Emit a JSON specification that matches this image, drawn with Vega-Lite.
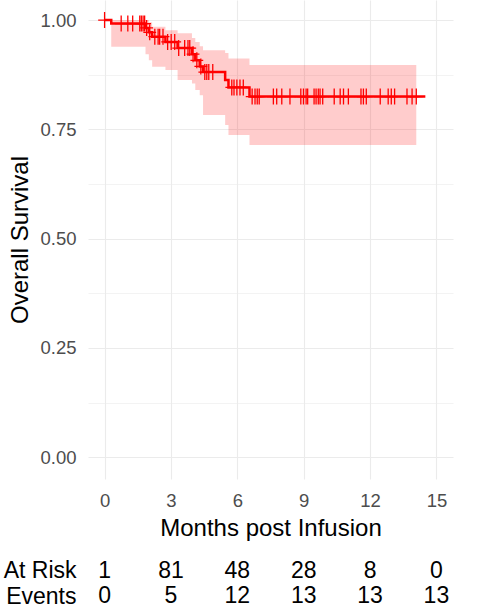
{
  "$schema": "https://vega.github.io/schema/vega-lite/v6.json",
  "autosize": {"type": "pad"},
  "padding": {"left": 3, "top": 0, "right": 35, "bottom": 5},
  "background": "white",
  "config": {"view": {"stroke": null}, "font": "Liberation Sans"},
  "datasets": {
    "curve": [
      {"time": 0, "surv": 1.0, "lower": 1.0, "upper": 1.0},
      {"time": 0.3, "surv": 0.992, "lower": 0.939, "upper": 1.0},
      {"time": 1.85, "surv": 0.982, "lower": 0.922, "upper": 1.0},
      {"time": 2.0, "surv": 0.972, "lower": 0.908, "upper": 0.995},
      {"time": 2.15, "surv": 0.962, "lower": 0.893, "upper": 0.985},
      {"time": 2.75, "surv": 0.95, "lower": 0.886, "upper": 0.977},
      {"time": 3.3, "surv": 0.936, "lower": 0.863, "upper": 0.97},
      {"time": 3.95, "surv": 0.922, "lower": 0.855, "upper": 0.959},
      {"time": 4.1, "surv": 0.908, "lower": 0.84, "upper": 0.95},
      {"time": 4.3, "surv": 0.894, "lower": 0.828, "upper": 0.94},
      {"time": 4.45, "surv": 0.881, "lower": 0.783, "upper": 0.931},
      {"time": 5.45, "surv": 0.863, "lower": 0.76, "upper": 0.925},
      {"time": 5.6, "surv": 0.846, "lower": 0.737, "upper": 0.912},
      {"time": 6.55, "surv": 0.825, "lower": 0.714, "upper": 0.897},
      {"time": 14.09, "surv": 0.825, "lower": 0.714, "upper": 0.897},
      {"time": 14.5, "surv": 0.825, "lower": null, "upper": null}
    ],
    "censor": [
      {"time": 0.0, "surv": 1.0},
      {"time": 0.75, "surv": 0.992},
      {"time": 1.05, "surv": 0.992},
      {"time": 1.27, "surv": 0.992},
      {"time": 1.59, "surv": 0.992},
      {"time": 1.66, "surv": 0.992},
      {"time": 1.74, "surv": 0.992},
      {"time": 1.81, "surv": 0.992},
      {"time": 1.9, "surv": 0.982},
      {"time": 2.04, "surv": 0.972},
      {"time": 2.27, "surv": 0.962},
      {"time": 2.42, "surv": 0.962},
      {"time": 2.49, "surv": 0.962},
      {"time": 2.64, "surv": 0.962},
      {"time": 2.85, "surv": 0.95},
      {"time": 3.01, "surv": 0.95},
      {"time": 3.17, "surv": 0.95},
      {"time": 3.35, "surv": 0.936},
      {"time": 3.62, "surv": 0.936},
      {"time": 3.77, "surv": 0.936},
      {"time": 3.85, "surv": 0.936},
      {"time": 4.0, "surv": 0.922},
      {"time": 4.17, "surv": 0.908},
      {"time": 4.35, "surv": 0.894},
      {"time": 4.53, "surv": 0.881},
      {"time": 4.62, "surv": 0.881},
      {"time": 4.71, "surv": 0.881},
      {"time": 4.89, "surv": 0.881},
      {"time": 5.75, "surv": 0.846},
      {"time": 5.85, "surv": 0.846},
      {"time": 5.98, "surv": 0.846},
      {"time": 6.12, "surv": 0.846},
      {"time": 6.27, "surv": 0.846},
      {"time": 6.67, "surv": 0.825},
      {"time": 6.8, "surv": 0.825},
      {"time": 6.9, "surv": 0.825},
      {"time": 6.99, "surv": 0.825},
      {"time": 7.63, "surv": 0.825},
      {"time": 7.78, "surv": 0.825},
      {"time": 8.01, "surv": 0.825},
      {"time": 8.38, "surv": 0.825},
      {"time": 8.87, "surv": 0.825},
      {"time": 8.99, "surv": 0.825},
      {"time": 9.11, "surv": 0.825},
      {"time": 9.18, "surv": 0.825},
      {"time": 9.47, "surv": 0.825},
      {"time": 9.56, "surv": 0.825},
      {"time": 9.66, "surv": 0.825},
      {"time": 9.74, "surv": 0.825},
      {"time": 9.86, "surv": 0.825},
      {"time": 10.38, "surv": 0.825},
      {"time": 10.65, "surv": 0.825},
      {"time": 10.8, "surv": 0.825},
      {"time": 11.02, "surv": 0.825},
      {"time": 11.59, "surv": 0.825},
      {"time": 11.7, "surv": 0.825},
      {"time": 11.83, "surv": 0.825},
      {"time": 12.46, "surv": 0.825},
      {"time": 12.82, "surv": 0.825},
      {"time": 12.96, "surv": 0.825},
      {"time": 13.11, "surv": 0.825},
      {"time": 13.67, "surv": 0.825},
      {"time": 13.9, "surv": 0.825},
      {"time": 14.09, "surv": 0.825}
    ],
    "risk": [
      {"time": 0, "row": "At Risk", "value": "1"},
      {"time": 3, "row": "At Risk", "value": "81"},
      {"time": 6, "row": "At Risk", "value": "48"},
      {"time": 9, "row": "At Risk", "value": "28"},
      {"time": 12, "row": "At Risk", "value": "8"},
      {"time": 15, "row": "At Risk", "value": "0"},
      {"time": 0, "row": "Events", "value": "0"},
      {"time": 3, "row": "Events", "value": "5"},
      {"time": 6, "row": "Events", "value": "12"},
      {"time": 9, "row": "Events", "value": "13"},
      {"time": 12, "row": "Events", "value": "13"},
      {"time": 15, "row": "Events", "value": "13"}
    ]
  },
  "spacing": 79,
  "bounds": "flush",
  "vconcat": [
    {
      "width": 365,
      "height": 479,
      "layer": [
        {
          "data": {"name": "curve"},
          "mark": {"type": "area", "interpolate": "step-after", "color": "#ff0000", "opacity": 0.2},
          "encoding": {
            "x": {
              "field": "time", "type": "quantitative",
              "scale": {"domain": [-0.75, 15.75], "nice": false, "zero": false},
              "axis": {
                "title": "Months post Infusion",
                "values": [0, 1.5, 3, 4.5, 6, 7.5, 9, 10.5, 12, 13.5, 15],
                "labelExpr": "datum.value % 3 === 0 ? datum.label : ''",
                "labelOverlap": false, "labelFlush": false,
                "titleFontSize": 24, "titleFontWeight": "normal", "titleColor": "black",
                "titlePadding": 6,
                "labelFontSize": 18.5, "labelColor": "#4d4d4d", "labelPadding": 12.5,
                "ticks": false, "tickSize": 0, "domain": false,
                "grid": true, "gridColor": "#ebebeb",
                "gridWidth": {"condition": {"test": "datum.value % 3 !== 0", "value": 0.6}, "value": 1.1}
              }
            },
            "y": {
              "field": "lower", "type": "quantitative",
              "scale": {"domain": [-0.05, 1.046], "nice": false, "zero": false},
              "axis": {
                "title": "Overall Survival",
                "values": [0, 0.125, 0.25, 0.375, 0.5, 0.625, 0.75, 0.875, 1],
                "format": ".2f",
                "labelExpr": "(datum.value * 4) % 1 === 0 ? datum.label : ''",
                "labelOverlap": false, "labelFlush": false,
                "titleFontSize": 24, "titleFontWeight": "normal", "titleColor": "black",
                "titlePadding": 7,
                "labelFontSize": 18.5, "labelColor": "#4d4d4d", "labelPadding": 12,
                "ticks": false, "tickSize": 0, "domain": false,
                "grid": true, "gridColor": "#ebebeb",
                "gridWidth": {"condition": {"test": "(datum.value * 4) % 1 !== 0", "value": 0.6}, "value": 1.1}
              }
            },
            "y2": {"field": "upper"}
          }
        },
        {
          "data": {"name": "curve"},
          "mark": {"type": "line", "interpolate": "step-after", "color": "#ff0000", "strokeWidth": 2.5},
          "encoding": {
            "x": {"field": "time", "type": "quantitative"},
            "y": {"field": "surv", "type": "quantitative"}
          }
        },
        {
          "data": {"name": "censor"},
          "mark": {"type": "point", "shape": "M-0.8,0H0.8M0,-1V1", "size": 256, "filled": false, "stroke": "#ff0000", "strokeWidth": 1.3, "opacity": 1},
          "encoding": {
            "x": {"field": "time", "type": "quantitative"},
            "y": {"field": "surv", "type": "quantitative"}
          }
        }
      ]
    },
    {
      "width": 365,
      "height": 51,
      "data": {"name": "risk"},
      "mark": {"type": "text", "fontSize": 23, "color": "black"},
      "encoding": {
        "x": {
          "field": "time", "type": "quantitative",
          "scale": {"domain": [-0.75, 15.75], "nice": false, "zero": false},
          "axis": null
        },
        "y": {
          "field": "row", "type": "nominal",
          "sort": ["At Risk", "Events"],
          "scale": {"paddingInner": 0, "paddingOuter": 0},
          "axis": {
            "title": null, "ticks": false, "tickSize": 0, "domain": false, "grid": false,
            "labelFontSize": 23, "labelColor": "black", "labelPadding": 12
          }
        },
        "text": {"field": "value", "type": "nominal"}
      }
    }
  ]
}
